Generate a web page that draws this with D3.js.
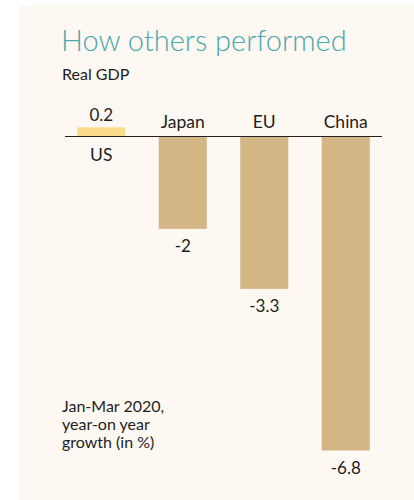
<!DOCTYPE html>
<html lang="en">
<head>
    <meta charset="UTF-8">
    <title>How others performed</title>
    <script src="https://cdnjs.cloudflare.com/ajax/libs/d3/7.8.5/d3.min.js"></script>
    <style>
        body { margin: 0; background: #fff; }
        svg text { font-family: Lato, 'Open Sans', sans-serif; fill: #1e1e1e; }
    </style>
</head>
<body>
    <div id="chart"></div>
    <script>
        // data
        var countries = ['US', 'Japan', 'EU', 'China'],
            growth = [0.2, -2, -3.3, -6.8],
            valueLabels = ['0.2', '-2', '-3.3', '-6.8'];

        var w = 414,
            h = 500,
            svg = d3.select('#chart')
                    .append('svg')
                    .attr('width', w)
                    .attr('height', h);

        // panel background
        svg.append('rect')
            .attr('x', 19)
            .attr('y', 5)
            .attr('width', w - 19)
            .attr('height', h - 5)
            .attr('fill', '#fdf8f1');

        svg.append('text')
            .attr('x', 61)
            .attr('y', 51)
            .text('How others performed')
            .style('font-size', '29px')
            .style('font-weight', 300)
            .style('fill', '#4aa7ae');

        svg.append('text')
            .attr('x', 62)
            .attr('y', 80)
            .text('Real GDP')
            .style('font-size', '16px');

        var xScale = d3.scaleBand()
                       .domain(countries)
                       .range([65, 382])
                       .paddingInner(0.41)
                       .paddingOuter(0.15);

        var yScale = d3.scaleLinear()
                       .domain([-6.8, 0])
                       .range([450.5, 136.5]);

        // BARS
        svg.selectAll('rect.bar')
            .data(countries)
            .enter()
            .append('rect')
            .attr('class', 'bar')
            .attr('x', (d) => xScale(d))
            .attr('width', xScale.bandwidth())
            .attr('y', (d, i) => yScale(Math.max(0, growth[i])))
            .attr('height', (d, i) => Math.abs(yScale(growth[i]) - yScale(0)))
            .attr('fill', (d, i) => growth[i] > 0 ? '#fbdc8f' : '#d4b585');

        // zero line
        svg.append('line')
            .attr('x1', 65)
            .attr('x2', 382)
            .attr('y1', yScale(0))
            .attr('y2', yScale(0))
            .attr('stroke', '#222')
            .attr('stroke-width', 1.2);

        // country names: above line for negatives, below for positives
        svg.selectAll('text.cat')
            .data(countries)
            .enter()
            .append('text')
            .attr('class', 'cat')
            .attr('x', (d) => xScale(d) + xScale.bandwidth() / 2)
            .attr('y', (d, i) => growth[i] > 0 ? yScale(0) + 24 : yScale(0) - 9)
            .attr('text-anchor', 'middle')
            .style('font-size', '17.5px')
            .text((d) => d);

        // value labels
        svg.selectAll('text.val')
            .data(countries)
            .enter()
            .append('text')
            .attr('class', 'val')
            .attr('x', (d) => xScale(d) + xScale.bandwidth() / 2)
            .attr('y', (d, i) => growth[i] > 0 ? yScale(growth[i]) - 6 : yScale(growth[i]) + 23)
            .attr('text-anchor', 'middle')
            .style('font-size', '17px')
            .text((d, i) => valueLabels[i]);

        // footnote
        var note = svg.append('text')
                      .attr('x', 62)
                      .attr('y', 412)
                      .style('font-size', '16px');
        ['Jan-Mar 2020,', 'year-on year', 'growth (in %)'].forEach((t, i) => {
            note.append('tspan')
                .attr('x', 62)
                .attr('dy', i === 0 ? 0 : 18)
                .text(t);
        });
    </script>
</body>
</html>
